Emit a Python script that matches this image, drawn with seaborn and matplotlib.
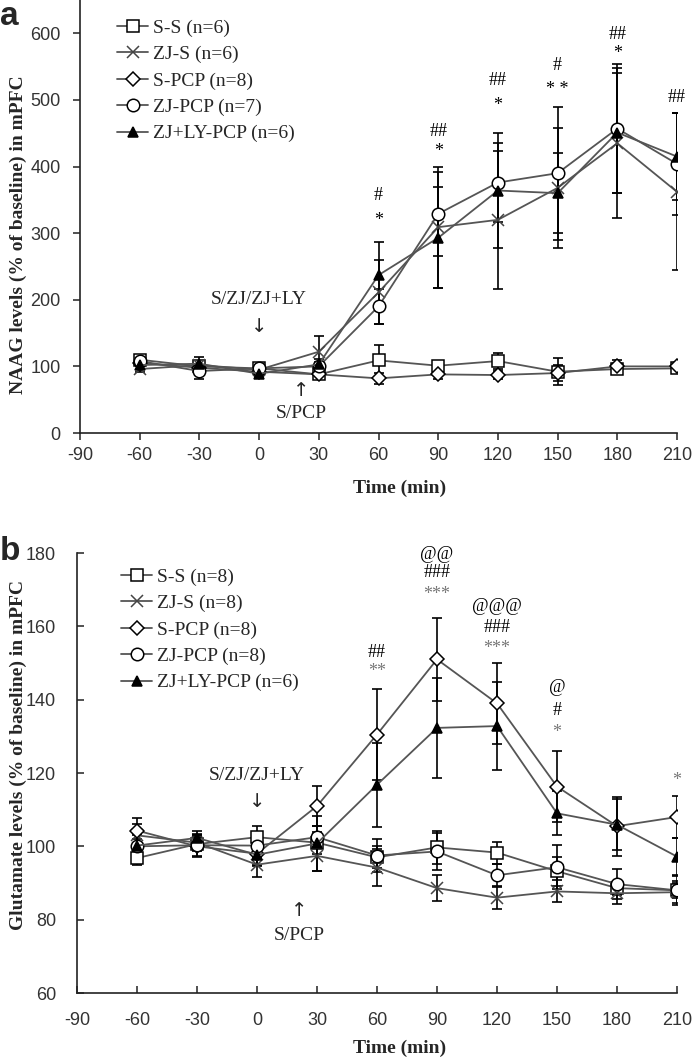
import matplotlib
matplotlib.use("Agg")
import matplotlib.pyplot as plt
import seaborn as sns
import numpy as np

# ---------------- data ----------------
time = [-60, -30, 0, 30, 60, 90, 120, 150, 180, 210]
xticks = [-90, -60, -30, 0, 30, 60, 90, 120, 150, 180, 210]

# Panel a: NAAG
a_labels = ["S-S (n=6)", "ZJ-S (n=6)", "S-PCP (n=8)", "ZJ-PCP (n=7)", "ZJ+LY-PCP (n=6)"]
a_ss = [110, 100, 97, 88, 109, 101, 108, 92, 96, 97]
a_ss_err = [5, 5, 5, 4, 23, 6, 12, 20, 8, 5]
a_zjs = [96, 102, 95, 122, 211, 309, 320, 368, 435, 362]
a_zjs_err = [5, 6, 6, 24, 48, 91, 104, 90, 113, 118]
a_spcp = [105, 98, 92, 88, 82, 88, 87, 90, 100, 100]
a_spcp_err = [5, 5, 5, 4, 8, 7, 6, 12, 10, 5]
a_zjpcp = [108, 93, 97, 100, 190, 329, 376, 390, 457, 404]
a_zjpcp_err = [6, 12, 8, 6, 26, 63, 60, 100, 97, 77]
a_lypcp = [102, 104, 89, 103, 237, 293, 364, 360, 451, 415]
a_lypcp_err = [6, 10, 5, 8, 50, 76, 86, 60, 90, 65]
a_yticks = [0, 100, 200, 300, 400, 500, 600]

a_ann_x = [60, 60, 90, 90, 120, 120, 150, 150, 180, 180, 210]
a_ann_y = [356, 319, 452, 423, 529, 492, 552, 515, 598, 570, 504]
a_ann_t = ["#", "*", "##", "*", "##", "*", "#", "* *", "##", "*", "##"]

# Panel b: Glutamate
b_labels = ["S-S (n=8)", "ZJ-S (n=8)", "S-PCP (n=8)", "ZJ-PCP (n=8)", "ZJ+LY-PCP (n=6)"]
b_ss = [96.8, 100.6, 102.5, 101, 97, 99.7, 98.3, 93.2, 88.6, 88]
b_ss_err = [2, 2, 3, 3, 3, 4.6, 3, 4, 2, 2]
b_zjs = [103, 101, 95, 97.4, 94.2, 88.6, 86, 87.7, 87.2, 87.5]
b_zjs_err = [3, 2, 3.4, 4, 5, 3.5, 3, 3, 3, 3]
b_spcp = [104.3, 100, 98, 111, 130.5, 151, 139, 116.3, 105.5, 108]
b_spcp_err = [3.3, 3, 3, 5.5, 12.3, 11.4, 11, 9.7, 8, 5.6]
b_zjpcp = [100, 100.3, 100.2, 102.5, 97.5, 98.6, 92.1, 94.3, 89.7, 88]
b_zjpcp_err = [2, 3, 3, 3, 4.5, 5, 3, 6, 4, 4]
b_lypcp = [100.2, 102.3, 97.7, 100.8, 116.8, 132.3, 132.8, 109, 105.9, 97.2]
b_lypcp_err = [3, 2, 3, 7.4, 11.4, 13.6, 12, 6, 7, 5]
b_yticks = [60, 80, 100, 120, 140, 160, 180]

b_ann_x = [60, 60, 90, 90, 90, 120, 120, 120, 150, 150, 150, 210]
b_ann_y = [152.9, 147.8, 179.5, 174.8, 168.8, 165.3, 159.8, 154.0, 143.2, 137.0, 131.0, 118.0]
b_ann_t = ["##", "**", "@@", "###", "***", "@@@", "###", "***", "@", "#", "*", "*"]

# ---------------- style ----------------
sns.set_theme(style="ticks")
plt.rcParams["font.family"] = ["Liberation Serif", "DejaVu Serif"]

W, H = 693, 1060
fig = plt.figure(figsize=(W / 100, H / 100), dpi=100)

markers = ["s", "x", "D", "o", "^"]
msizes = [9, 9, 7, 9, 7.5]
mfcs = ["white", "none", "white", "white", "black"]
mecs = ["black", "#444444", "black", "black", "black"]
line_color = "#555555"
serif = "Liberation Serif"
sans = "Liberation Sans"


def draw_panel(ax, series, errs, labels, yticks, ylim, tickdir, xpad, ypad, ylabel,
               ann_x, ann_y, ann_t, ann_star_color, leg_anchor):
    for i, (vals, err, lab) in enumerate(zip(series, errs, labels)):
        ax.errorbar(time, vals, yerr=err, fmt="none", ecolor="black",
                    elinewidth=1.2, capsize=3.5, capthick=1.2, zorder=2)
        sns.lineplot(x=time, y=vals, ax=ax, color=line_color, lw=1.3,
                     marker=markers[i], markersize=msizes[i],
                     markerfacecolor=mfcs[i], markeredgecolor=mecs[i],
                     markeredgewidth=1.1, label=lab, zorder=3 + i * 0.1,
                     legend=False)
    ax.set_xlim(-90, 210)
    ax.set_ylim(*ylim)
    ax.set_xticks(xticks)
    ax.set_yticks(yticks)
    ax.set_xticklabels([str(t) for t in xticks], family=sans, fontsize=13, color="#333333")
    ax.set_yticklabels([str(t) for t in yticks], family=sans, fontsize=13, color="#333333")
    ax.tick_params(direction=tickdir, length=5, width=1.1, colors="#222222",
                   labelcolor="#333333")
    ax.tick_params(axis="x", pad=xpad)
    ax.tick_params(axis="y", pad=ypad)
    for s in ["top", "right"]:
        ax.spines[s].set_visible(False)
    for s in ["left", "bottom"]:
        ax.spines[s].set_color("#222222")
        ax.spines[s].set_linewidth(1.2)
    ax.set_ylabel(ylabel, family=serif, fontsize=14, fontweight="bold")
    ax.set_xlabel("Time (min)", family=serif, fontsize=14, fontweight="bold")
    for x, y, t in zip(ann_x, ann_y, ann_t):
        col = ann_star_color if "*" in t else "black"
        ax.text(x, y, t, ha="center", va="center", family=serif, fontsize=13,
                color=col, clip_on=False, zorder=6)
    handles, labs = ax.get_legend_handles_labels()
    ax.legend(handles, labs, loc="upper left", bbox_to_anchor=leg_anchor,
              bbox_transform=fig.transFigure, frameon=False,
              prop={"family": serif, "size": 14}, handlelength=1.6,
              handletextpad=0.25, labelspacing=0.45, borderaxespad=0,
              borderpad=0)


# Panel a
ax1 = fig.add_axes([80 / W, 1 - 433 / H, 597 / W, 433 / H])
draw_panel(ax1,
           [a_ss, a_zjs, a_spcp, a_zjpcp, a_lypcp],
           [a_ss_err, a_zjs_err, a_spcp_err, a_zjpcp_err, a_lypcp_err],
           a_labels, a_yticks, (0, 650), "out", 5, 9,
           "NAAG levels (% of baseline) in mPFC",
           a_ann_x, a_ann_y, a_ann_t, "black",
           (117 / W, 1 - 19 / H))
ax1.yaxis.set_label_coords(-(80 - 27) / 597, (433 - 235) / 433)
ax1.xaxis.set_label_coords((400 - 80) / 597, -47 / 433)
ax1.text(0, 200, "S/ZJ/ZJ+LY", ha="center", va="center", family=serif, fontsize=14)
ax1.text(0, 160, "\u2193", ha="center", va="center", family="DejaVu Sans", fontsize=14)
ax1.text(21, 64, "\u2191", ha="center", va="center", family="DejaVu Sans", fontsize=14)
ax1.text(21, 29, "S/PCP", ha="center", va="center", family=serif, fontsize=14)

# Panel b
ax2 = fig.add_axes([77 / W, 1 - 993 / H, 600 / W, 440 / H])
draw_panel(ax2,
           [b_ss, b_zjs, b_spcp, b_zjpcp, b_lypcp],
           [b_ss_err, b_zjs_err, b_spcp_err, b_zjpcp_err, b_lypcp_err],
           b_labels, b_yticks, (60, 180), "in", 14, 15,
           "Glutamate levels (% of baseline) in mPFC",
           b_ann_x, b_ann_y, b_ann_t, "#777777",
           (121 / W, 1 - 568 / H))
ax2.yaxis.set_label_coords(-(77 - 27) / 600, (993 - 755) / 440)
ax2.xaxis.set_label_coords((400 - 77) / 600, -47 / 440)
ax2.text(0, 119.2, "S/ZJ/ZJ+LY", ha="center", va="center", family=serif, fontsize=14)
ax2.text(0, 112.2, "\u2193", ha="center", va="center", family="DejaVu Sans", fontsize=14)
ax2.text(21, 82.6, "\u2191", ha="center", va="center", family="DejaVu Sans", fontsize=14)
ax2.text(21, 75.8, "S/PCP", ha="center", va="center", family=serif, fontsize=14)

# Panel letters
fig.text(0 / W, 1 - 1 / H, "a", ha="left", va="top", family="Liberation Sans",
         fontsize=24, fontweight="bold")
fig.text(0 / W, 1 - 536 / H, "b", ha="left", va="top", family="Liberation Sans",
         fontsize=24, fontweight="bold")

fig.savefig("out.png", dpi=100)
